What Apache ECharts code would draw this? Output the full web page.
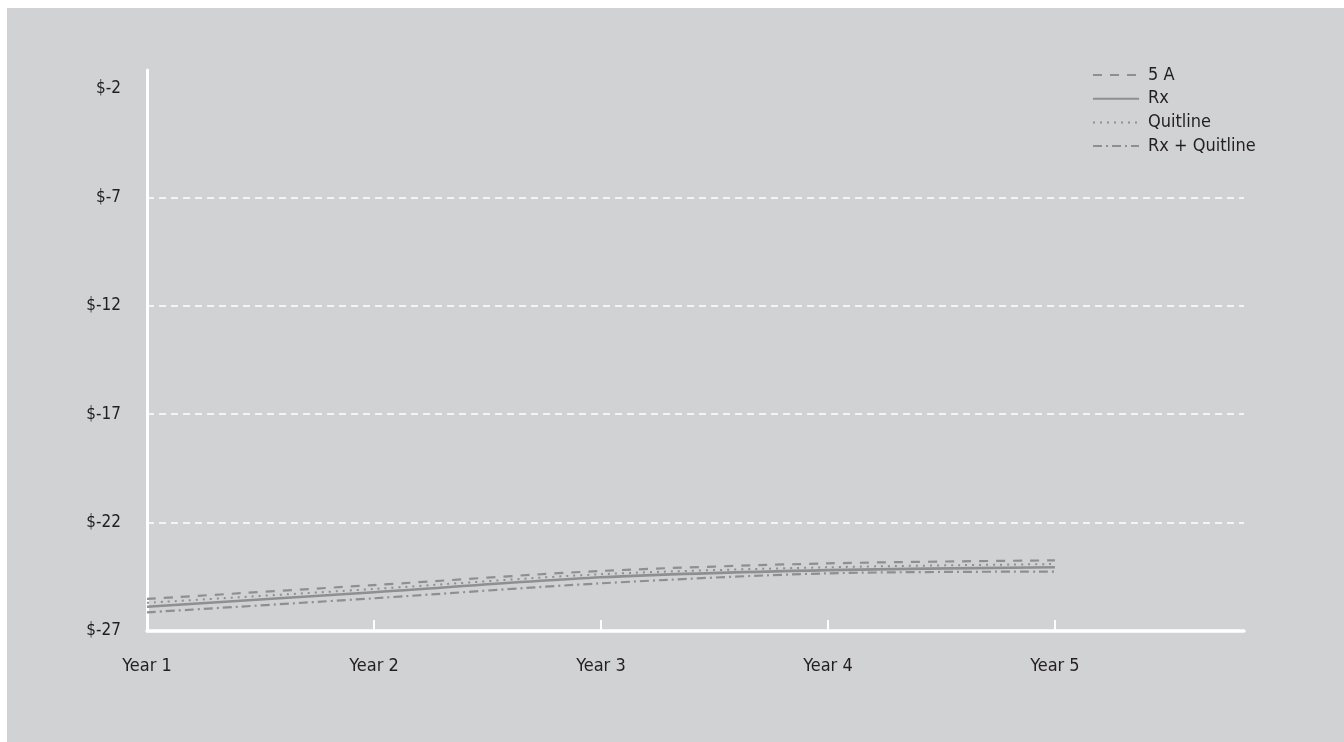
<!DOCTYPE html>
<html><head><meta charset="utf-8">
<script src="https://cdn.jsdelivr.net/npm/echarts@6/dist/echarts.min.js"></script>
<style>
html,body{margin:0;padding:0;background:#fff;width:1344px;height:742px;overflow:hidden;}
#bg{position:absolute;left:7px;top:8px;right:0;bottom:0;background:#d1d2d4;}
#chart{position:absolute;left:0;top:0;width:1344px;height:742px;}
</style></head><body><div id="bg"></div><div id="chart"></div>
<script>
const years = [1, 2, 3, 4, 5];
const yearLabels = ['Year 1', 'Year 2', 'Year 3', 'Year 4', 'Year 5'];
const yTicks = [-27, -22, -17, -12, -7, -2];
const seriesNames = ['5 A', 'Rx', 'Quitline', 'Rx + Quitline'];
const fiveA = [-25.52, -24.88, -24.23, -23.88, -23.74];
const rx = [-25.88, -25.21, -24.52, -24.19, -24.06];
const quitline = [-25.70, -25.06, -24.38, -24.06, -23.91];
const rxQuitline = [-26.14, -25.49, -24.80, -24.34, -24.26];

const FONT = 'DejaVu Sans Condensed';
const TEXT = '#231f20';
const LINE = '#8e8f91';

function pairs(vals) { return years.map((x, i) => [x, vals[i]]); }

const styles = [
  {type: [9, 8], width: 2.2},
  {type: 'solid', width: 2.6},
  {type: [2, 5], width: 2},
  {type: [9, 4, 2, 4], width: 2.2}
];
const valueSets = [fiveA, rx, quitline, rxQuitline];

const chart = echarts.init(document.getElementById('chart'), null, {renderer: 'canvas'});
chart.setOption({
  animation: false,
  backgroundColor: 'transparent',
  grid: {left: 147, right: 100, top: 70, bottom: 111, outerBoundsMode: 'none'},
  legend: {
    orient: 'vertical', left: 1087, top: 61, itemWidth: 46, itemHeight: 12, itemGap: 5.7,
    align: 'left',
    itemStyle: {opacity: 0},
    textStyle: {fontFamily: FONT, fontSize: 18, color: TEXT, lineHeight: 12, padding: [0, 0, 0, 4]},
    data: seriesNames
  },
  xAxis: {
    type: 'value', min: 1, max: 5.833, interval: 1,
    axisLine: {show: true, onZero: false, lineStyle: {color: '#fff', width: 3.5}},
    axisTick: {show: true, inside: true, length: 11, customValues: [2, 3, 4, 5], lineStyle: {color: '#fff', width: 2}},
    axisLabel: {customValues: years, formatter: v => yearLabels[years.indexOf(v)], margin: 26,
      fontFamily: FONT, fontSize: 18, color: TEXT},
    splitLine: {show: false}
  },
  yAxis: {
    type: 'value', min: -27, max: -1.12, interval: 5,
    axisLine: {show: true, onZero: false, lineStyle: {color: '#fff', width: 3}},
    axisTick: {show: false},
    axisLabel: {customValues: yTicks, formatter: v => '$' + v, margin: 26,
      fontFamily: FONT, fontSize: 17, color: TEXT, lineHeight: 20, padding: [4, 0, 0, 0]},
    splitLine: {show: true, showMinLine: false, showMaxLine: false,
      lineStyle: {color: ['#fff', '#fff', '#fff', '#fff', 'rgba(0,0,0,0)'], type: [7, 5], width: 1.5}}
  },
  series: seriesNames.map((name, i) => ({
    name: name, type: 'line', symbol: 'none', smooth: 0.3,
    data: pairs(valueSets[i]),
    lineStyle: {color: LINE, width: styles[i].width, type: styles[i].type},
    itemStyle: {color: LINE}
  }))
});
</script></body></html>
